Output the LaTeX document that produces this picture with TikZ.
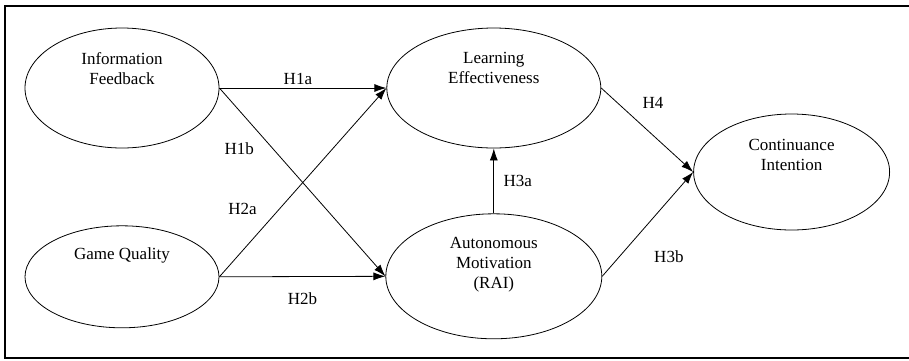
\documentclass[tikz,border=0pt]{standalone}
\usepackage{fontspec}
\setmainfont{Liberation Serif}
\usetikzlibrary{arrows.meta, positioning, shapes.geometric}

\begin{document}
\begin{tikzpicture}[
    x=1pt, y=-1pt,
    every node/.style={
        font=\fontsize{17}{20}\selectfont
    },
    construct/.style={
        draw,
        ellipse,
        line width=0.8pt
    },
    arrow/.style={-{Latex[length=12pt, width=8pt]}, line width=0.8pt}
]

\useasboundingbox (0,0) rectangle (909,360);

% ------------------------
% Frame
% ------------------------
\draw[line width=2pt] (5,6) rectangle (925,358);

% ------------------------
% Antecedents (left)
% ------------------------
\node (inf) [construct,
  minimum width=194pt, minimum height=120pt,
  label={[align=center, yshift=19pt]center:{Information\\Feedback}}]
  at (122,88) {};

\node (game) [construct, below=77pt of inf,
  minimum width=194pt, minimum height=102pt,
  label={[yshift=21pt]center:{Game Quality}}]
  {};

% ------------------------
% Mediators (middle)
% ------------------------
\node (learn) [construct, right=167pt of inf,
  minimum width=214pt, minimum height=120pt,
  label={[align=center, yshift=20pt]center:{Learning\\Effectiveness}}]
  {};

\node (auto) [construct, below=65pt of learn,
  minimum width=216pt, minimum height=125pt,
  label={[align=center, yshift=12pt]center:{Autonomous\\Motivation\\(RAI)}}]
  {};

% ------------------------
% Outcome (right)
% ------------------------
\node (cont) [construct, right=92pt of learn, yshift=-84pt,
  minimum width=196pt, minimum height=116pt,
  label={[align=center, yshift=17pt]center:{Continuance\\Intention}}]
  {};

% ------------------------
% Hypotheses
% ------------------------
\draw[arrow] (inf) -- node[above, pos=0.47] (h1a) {H1a} (learn);
\draw[arrow] (inf.east) -- node[pos=0.32, left=15pt] (h1b) {H1b} (auto.west);
\draw[arrow] (game.east) -- node[pos=0.36, left=19pt] (h2a) {H2a} (learn.west);
\draw[arrow] (game.east) -- node[below=12pt] (h2b) {H2b} (auto.west);

\draw[arrow] (auto) -- node[right=6pt] (h3a) {H3a} (learn);
\draw[arrow] (learn.east) -- node[pos=0.18, right=21pt] (h4) {H4} (cont.west);
\draw[arrow] (auto.east) -- node[pos=0.19, right=31pt] (h3b) {H3b} (cont.west);

\end{tikzpicture}
\end{document}
